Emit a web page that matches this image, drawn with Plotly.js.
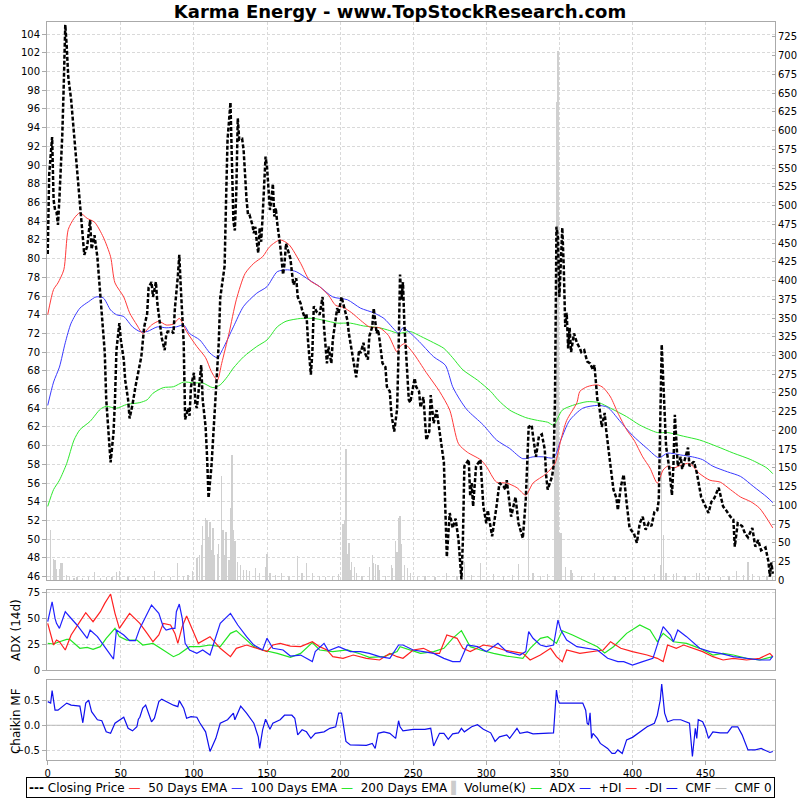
<!DOCTYPE html>
<html><head><meta charset="utf-8">
<script src="https://cdn.plot.ly/plotly-3.0.1.min.js"></script>
<style>html,body{margin:0;padding:0;background:#fff}#chart{width:800px;height:800px}</style>
</head><body><div id="chart"></div>
<script>
// ---- Closing price (day index, value) ----
const closeDays = [0,1,2,3,4,5,6,7,8,9,10,11,12,13,14,16,18,20,21,23,25,27,29,30,32,34,37,39,40,43,45,46,47,49,50,52,53,55,56,58,60,63,64,66,68,69,71,72,74,75,77,78,80,81,82,85,86,87,89,90,91,93,94,96,97,98,100,101,102,104,105,106,108,109,110,112,114,115,117,118,120,121,122,123,125,126,127,128,129,130,131,133,134,136,137,138,140,141,142,143,144,145,146,147,148,149,150,152,153,154,155,156,157,158,159,161,162,163,164,166,167,168,170,171,173,174,176,177,178,180,181,182,184,186,188,189,191,192,194,195,198,199,201,203,205,206,208,210,211,213,214,216,217,219,220,222,223,225,226,227,229,231,232,234,235,237,239,240,241,242,243,244,247,248,251,252,254,255,257,259,261,262,264,266,268,271,273,275,277,279,281,283,284,285,288,289,290,291,293,296,298,300,301,304,307,309,312,313,314,317,320,322,325,327,329,331,332,334,336,338,340,341,342,345,346,347,348,349,350,352,353,354,355,356,357,358,360,362,364,365,367,369,371,373,374,376,377,379,381,382,385,387,389,390,392,394,396,398,401,403,405,407,409,411,413,415,417,418,420,423,425,427,428,429,430,431,433,434,437,438,439,442,444,446,447,450,452,454,456,459,460,462,464,467,469,470,472,475,477,479,482,484,486,488,491,493,494,495,496];
const closeVals = [80.5,89,91,93,86.3,85.2,85,83.6,86.5,90,93.4,98.8,105,102.7,99.5,97,93.4,89.8,87.3,84.1,80.4,81.3,84.1,81,82.5,80.1,74,70,65,58.2,61.4,64.9,70.2,73.1,71.3,69.2,67,64.9,62.9,64.4,66.3,68.8,69.5,72.7,74.1,76.9,77.5,75.9,77.5,75.2,72.7,71.5,70.2,71.8,72.2,72.2,72.0,74.7,78.1,80.4,77.0,71.0,62.8,64.0,63.2,66.3,67.8,64.5,64.0,66.7,68.6,64.9,62.0,58.8,54.4,57.8,62.7,66.3,71.0,75.8,78.1,79.2,86.3,92.7,96.7,91,84,83,87.2,95,92.7,92.8,91.6,86.3,84.7,84.7,83.6,82.7,83.4,81.8,80.6,83.3,81.8,84.5,88.1,90.9,89.8,85.2,86.3,88.0,84.5,85.4,83.8,82.7,81.4,78.3,79.5,81.6,81.1,80.0,78.6,77.2,77.9,75.9,75.2,74.5,73.6,74.1,71.3,67.6,69.9,74.9,74.3,74.0,75.9,72.7,68.8,70.6,68.8,71.3,74.7,74.2,75.9,74.5,73.4,72.0,70.2,68.4,67.3,70.2,69.9,71.0,69.9,69.2,71.7,72.7,74.7,72.0,72.4,71.3,68.8,68.4,66.3,65.8,63.5,61.5,63.9,70.2,78.3,75.6,77.5,72.9,64.9,64.6,67.2,66.3,65.8,64.1,65.2,60.6,61.5,65.4,62.4,63.8,61.4,58.2,48.1,52.8,51.2,52.2,49.9,45.7,49.9,57.8,58.5,54.6,56.0,53.5,57.8,58.5,53.5,51.7,53.1,50.3,53.5,56.0,55.6,55.3,56.3,52.4,54.5,51.7,50.1,54.2,62.0,62.2,61.0,58.8,61.0,61.2,59.6,56.7,55.3,56.7,57.8,64.9,83.4,82.3,75.9,83.3,79.1,72.7,74.2,70.4,72.6,70.0,72.0,71.0,70.4,70.0,70.2,69.0,68.8,68.1,68.6,64.9,64.6,62.0,63.5,61.7,57.8,55.3,54.4,53.1,55.6,56.9,53.9,51.2,50.6,49.6,51.7,52.4,51.0,51.7,51.4,52.9,53.1,54.2,70.8,59.9,57.8,54.7,57.8,63.3,60.6,57.8,58.8,57.5,59.2,59.8,57.8,58.3,57.1,55.3,54.5,53.5,52.8,54.0,54.4,55.5,54.9,53.5,53.1,52.4,52.1,49.2,51.7,51.4,50.6,50.2,51.2,49.2,49.9,48.8,49.1,47.6,46.0,47.5,46.3];

// ---- Moving averages ----
const ema50Days = [0,4,7,11,14,18,22,27,32,38,43,46,52,56,61,65,71,76,81,86,90,95,102,108,112,116,119,124,129,135,141,147,152,159,165,173,179,186,192,197,202,208,214,220,227,233,239,241,244,250,259,268,275,281,287,296,300,307,314,321,327,332,341,347,351,355,362,364,369,376,380,385,390,396,401,407,412,417,421,424,428,433,439,446,453,460,467,474,481,487,496];
const ema50Vals = [74.0,76.7,77.4,78.8,83.1,84.3,84.9,84.3,83.9,82.3,80.2,77.4,75.9,74.2,72.9,72.0,72.9,73.3,72.9,73.0,73.6,72.2,70.6,69.4,67.9,67.0,68.8,72.0,75.6,78.4,79.5,80.2,81.3,82.0,81.5,79.5,77.7,77.0,76.1,75.0,74.8,74.2,73.4,72.7,72.6,71.8,70.0,70.6,70.9,69.9,67.8,65.8,63.8,60.2,59.3,58.5,57.8,56.1,56.0,55.5,54.7,56.0,57.0,58.1,60.6,62.7,64.6,65.8,66.3,66.5,66.2,65.2,63.5,61.7,60.6,58.8,57.6,56.0,57.4,57.8,57.6,57.9,58.1,57.0,56.3,56.1,55.3,54.5,54.0,53.3,51.2];
const ema100Days = [0,4,8,12,16,22,28,33,38,43,47,52,58,63,68,75,81,88,93,97,104,111,116,120,127,134,143,150,157,164,170,179,186,195,205,214,223,230,236,240,243,253,264,272,277,282,287,298,307,316,325,332,339,346,351,357,366,376,383,391,400,410,418,424,433,441,448,455,465,474,483,492,496];
const ema100Vals = [64.3,66.8,68.4,71.0,73.1,74.7,75.4,75.9,75.8,74.5,74.0,73.8,72.7,72.2,72.2,72.7,72.6,72.7,72.9,72.0,71.3,69.9,69.4,70.4,72.7,74.9,76.3,77.0,78.6,78.8,78.6,77.7,77.0,75.9,75.6,74.7,74.2,73.6,72.6,72.0,72.6,71.3,69.5,68.6,66.3,64.9,63.8,62.2,60.6,59.7,58.6,58.8,58.8,58.7,60.6,62.7,64.0,64.3,64.1,62.7,61.1,59.7,58.7,59.2,59.0,58.8,58.5,57.8,57.2,56.7,55.6,54.5,53.9];
const ema200Days = [0,4,8,13,18,22,29,36,40,47,54,63,68,72,79,86,93,100,106,113,118,123,127,134,143,150,157,163,173,182,189,198,207,216,227,234,240,248,255,264,271,277,284,294,303,308,316,327,335,342,346,352,359,369,377,385,396,405,417,424,435,446,458,469,481,492,496];
const ema200Vals = [53.5,55.3,56.3,58.1,60.6,61.7,62.6,63.9,64.2,64.0,64.4,64.6,64.9,65.6,66.2,66.3,66.8,66.7,66.7,66.2,66.5,67.4,68.3,69.5,70.6,71.3,72.7,73.3,73.6,73.6,73.4,73.1,73.1,72.8,72.6,72.3,72.0,72.2,71.7,71.0,70.4,69.4,68.1,67.0,65.8,64.9,63.8,63.0,62.7,62.5,62.2,63.8,64.3,64.7,64.6,64.0,63.1,62.2,61.4,61.4,61.0,60.6,59.9,59.2,58.5,57.6,57.0];

// ---- Volume (K) ----
const volDays = [2,4,5,6,8,9,10,13,15,18,20,24,28,32,36,40,44,47,49,55,60,66,73,78,84,89,93,96,99,102,104,105,106,108,109,110,111,112,113,114,116,117,119,120,121,122,124,125,126,127,128,130,132,134,136,138,142,145,149,150,152,156,160,165,171,174,177,181,186,190,195,199,202,203,204,205,206,207,208,210,211,215,220,222,223,224,226,227,231,235,236,238,239,240,241,242,244,246,248,253,258,265,273,280,285,290,296,305,312,318,322,329,332,337,342,347,348,349,350,351,354,358,359,365,374,380,388,395,400,408,415,419,420,421,423,428,430,436,444,446,452,460,466,471,476,479,482,487,492,496];
const volVals = [67,28,27,15,15,23,23,7,4,3,4,3,5,11,3,5,4,11,13,4,3,5,12,4,5,23,6,7,13,30,34,47,72,83,80,58,78,40,70,34,35,49,139,67,34,64,27,96,167,67,52,25,20,14,14,13,16,10,18,35,10,7,10,6,32,10,23,10,6,5,6,8,75,80,175,35,50,14,24,18,10,6,18,34,23,22,20,14,6,20,17,53,38,83,86,48,20,17,10,5,6,5,10,6,25,7,23,8,6,7,22,180,10,6,8,165,638,706,63,63,18,14,10,6,10,5,6,5,14,6,8,20,190,60,10,8,10,6,10,10,6,5,6,12,7,25,8,5,6,4];

// ---- ADX (14d) ----
const adxDays = [0,4,8,13,15,19,22,27,31,36,40,46,49,54,61,65,72,79,86,90,97,104,111,118,125,129,135,141,147,157,166,173,181,186,195,205,214,220,230,239,241,248,255,264,271,277,283,289,296,305,314,325,330,337,342,348,352,359,369,376,381,387,396,405,412,417,421,428,437,446,455,462,469,478,487,494,496];
const adxVals = [25.8,25.2,27.4,29.7,29.7,24.2,21.0,21.9,20.0,22.6,30.7,40.3,32.3,29.0,29.0,24.2,25.8,19.4,12.9,15.5,22.6,22.6,24.2,22.6,35.5,38.1,30.7,22.6,19.4,16.1,12.3,16.1,26.5,19.4,17.8,19.4,15.5,12.3,12.9,17.8,22.6,19.4,16.1,17.8,21.0,30.7,38.1,22.6,19.4,16.1,13.5,11.3,21.0,30.7,32.3,25.8,38.1,33.9,27.4,22.6,16.5,22.6,35.5,43.6,38.7,27.4,35.5,27.4,25.8,21.0,14.5,16.1,14.5,11.3,9.7,12.3,12.9];
const pdiDays = [0,2,3,5,6,8,12,15,20,27,29,34,38,45,47,52,56,60,63,68,71,73,76,79,81,85,87,88,90,92,94,97,102,106,111,118,125,130,136,141,147,150,154,161,166,173,181,183,189,192,199,207,214,220,227,234,240,243,250,257,264,271,277,282,287,294,300,308,314,323,327,329,332,337,341,346,348,349,351,355,362,369,376,383,390,394,400,407,414,421,426,428,431,437,442,446,453,460,469,478,487,494,496];
const pdiVals = [46.8,61.3,66.1,50,45.2,40.3,56.5,51.6,43.6,30.7,38.7,32.3,24.2,10.6,38.7,33.9,28.4,28.4,40.3,54.9,62.9,59.7,54.9,42,38.7,40.3,40.3,56.5,63.9,50,25.8,19.4,16.1,19.4,14.5,45.2,54.9,43.6,32.3,24.2,19.4,30.7,21.0,19.4,13.5,14.5,8.1,17.8,25.8,18.7,22.6,17.8,17.8,16.1,12.9,11.3,24.2,24.2,19.4,17.8,16.1,11.3,8.1,8.1,24.2,22.6,17.8,25.8,17.8,14.5,17.8,37.1,30.7,24.2,22.6,24.2,40.3,48.4,38.7,29.0,22.6,21.0,19.4,11.3,8.1,8.1,4.8,8.1,11.3,42,33.9,27.4,38.7,32.3,25.8,21.0,17.8,16.1,12.9,11.3,9.7,9.7,13.5];
const mdiDays = [0,2,4,6,8,12,16,22,26,31,36,39,43,46,49,56,63,68,72,76,79,84,87,89,92,95,99,103,111,118,125,129,136,143,150,154,159,166,173,181,186,191,195,202,209,218,227,234,239,243,250,257,264,268,273,280,284,289,298,305,312,318,325,330,337,344,348,352,355,364,373,380,385,392,400,410,417,421,424,430,435,442,448,455,462,469,478,487,494,496];
const mdiVals = [45.2,33.9,24.2,29.0,27.4,19.4,33.9,46.8,55.5,46.8,56.5,64.5,73.6,54.9,40.3,54.9,45.2,35.5,27.4,33.9,45.2,43.6,35.5,25.8,42,52.3,38.7,25.8,32.3,21.0,12.9,21.0,24.2,21.0,17.8,24.2,25.8,23.2,22.6,27.4,22.6,19.4,12.9,11.3,14.5,11.3,9.7,16.1,12.9,11.3,19.4,21.0,16.1,16.1,33.9,30.7,21.0,17.8,24.2,22.6,19.4,17.8,16.1,9.7,14.5,21.0,12.9,8.1,19.4,16.1,17.8,19.4,27.4,21.0,17.8,14.5,11.3,8.1,24.2,21.0,24.2,21.0,17.8,12.9,9.7,11.3,9.7,11.3,16.1,12.9];

// ---- Chaikin Money Flow ----
const cmfDays = [0,2,3,5,7,11,13,16,22,24,26,28,30,34,37,40,43,46,50,52,55,58,61,62,63,65,67,69,71,73,76,78,81,86,89,90,93,95,98,102,104,108,111,115,118,123,127,128,132,136,141,144,145,147,149,152,154,159,162,167,169,171,174,177,180,183,189,193,197,199,201,202,204,207,214,218,222,224,226,230,234,238,240,241,243,250,258,262,264,268,271,274,277,281,283,285,290,294,298,303,306,309,314,316,321,323,328,332,339,346,348,349,350,353,366,368,369,370,371,372,373,376,378,383,386,388,390,393,396,400,405,410,415,417,419,420,422,424,428,433,439,441,443,444,445,448,450,452,455,460,465,468,472,475,479,484,488,492,494,496];
const cmfVals = [0.47,0.44,0.69,0.30,0.30,0.40,0.44,0.40,0.38,0.05,0.44,0.50,0.27,0.11,0.09,-0.13,-0.16,0.04,0.12,0.16,-0.06,-0.11,-0.03,0.12,0.16,0.34,0.40,0.24,0.07,0.14,0.47,0.52,0.47,0.40,0.37,0.49,0.34,0.14,0.17,0.16,0.05,-0.13,-0.52,-0.26,0.04,0.11,0.24,0.11,0.38,0.24,0.04,-0.23,-0.46,-0.09,0.12,-0.08,0.04,0.11,0.20,0.20,0.14,-0.19,-0.09,-0.13,-0.26,-0.16,-0.13,-0.06,-0.03,0.24,0.24,0.07,-0.32,-0.39,-0.40,-0.40,-0.36,-0.46,-0.16,-0.13,-0.16,-0.26,0.09,-0.03,-0.11,-0.08,-0.08,-0.06,-0.41,-0.16,-0.16,-0.28,-0.17,-0.15,-0.06,-0.13,-0.03,0.01,-0.08,-0.15,-0.32,-0.23,-0.19,-0.26,-0.06,-0.16,-0.13,-0.17,-0.16,-0.15,0.70,0.50,0.44,0.44,0.44,0.30,0.04,0.01,0.25,-0.26,-0.16,-0.26,-0.36,-0.46,-0.56,-0.56,-0.49,-0.56,-0.29,-0.24,-0.13,-0.03,0.04,0.20,0.50,0.82,0.24,0.07,0.11,0.11,0.04,-0.62,-0.06,-0.26,0.11,0.07,-0.06,-0.26,-0.13,-0.15,-0.15,-0.03,-0.03,-0.19,-0.49,-0.49,-0.46,-0.52,-0.54,-0.52];
const cmfZeroDays = [-0.5,497.5];
const cmfZeroVals = [0,0];

const xTicks = [0,50,100,150,200,250,300,350,400,450];
const adxTicks = [0,25,50,75];
const cmfTicks = [-0.5,0,0.5];

const titleText = 'Karma Energy - www.TopStockResearch.com';
const adxTitle = 'ADX (14d)';
const cmfTitle = 'Chaikin MF';

const RED = '#ff3a3a', BLUE = '#3a3aff', GREEN = '#2ee82e';
const GRID = '#d9d9d9', BORDER = '#aaaaaa';

const traces = [
  {type:'bar', x:volDays, y:volVals, xaxis:'x', yaxis:'y', width:0.9, marker:{color:'#d0d0d0', line:{width:0}}, name:'Volume(K)', hoverinfo:'skip'},
  {type:'scatter', mode:'lines', x:ema200Days, y:ema200Vals, xaxis:'x', yaxis:'y4', line:{color:GREEN, width:1, shape:'spline', smoothing:0.7}, name:'200 Days EMA'},
  {type:'scatter', mode:'lines', x:ema100Days, y:ema100Vals, xaxis:'x', yaxis:'y4', line:{color:BLUE, width:1, shape:'spline', smoothing:0.7}, name:'100 Days EMA'},
  {type:'scatter', mode:'lines', x:ema50Days, y:ema50Vals, xaxis:'x', yaxis:'y4', line:{color:RED, width:1, shape:'spline', smoothing:0.7}, name:'50 Days EMA'},
  {type:'scatter', mode:'lines', x:closeDays, y:closeVals, xaxis:'x', yaxis:'y4', line:{color:'#000', width:2.5, dash:'4px,2px'}, name:'Closing Price'},
  {type:'scatter', mode:'lines', x:adxDays, y:adxVals, xaxis:'x2', yaxis:'y2', line:{color:'#22e622', width:1.2}, name:'ADX'},
  {type:'scatter', mode:'lines', x:mdiDays, y:mdiVals, xaxis:'x2', yaxis:'y2', line:{color:'#ff2020', width:1.2}, name:'-DI'},
  {type:'scatter', mode:'lines', x:pdiDays, y:pdiVals, xaxis:'x2', yaxis:'y2', line:{color:'#2020ff', width:1.2}, name:'+DI'},
  {type:'scatter', mode:'lines', x:cmfZeroDays, y:cmfZeroVals, xaxis:'x3', yaxis:'y3', line:{color:'#bbbbbb', width:1}, name:'CMF 0'},
  {type:'scatter', mode:'lines', x:cmfDays, y:cmfVals, xaxis:'x3', yaxis:'y3', line:{color:'#1010ee', width:1.2}, name:'CMF'}
];

const xRange = [-0.5, 497.5];
const gridStyle = {showgrid:true, gridcolor:GRID, griddash:'3px,2px', gridwidth:1, zeroline:false};
const boxStyle = {showline:true, mirror:true, linecolor:BORDER, linewidth:1};

const NB = '\u00A0';
function sym(color, ch){ return '<span style="color:'+color+'">'+ch+'</span>'; }
const legendParts = [
  ['<b>---</b>'+NB, 'Closing Price'],
  [sym(RED,'—')+NB+NB, '50 Days EMA'],
  [sym(BLUE,'—')+NB+NB, '100 Days EMA'],
  [sym(GREEN,'—')+NB+NB, '200 Days EMA'],
  [sym('#cccccc','▌')+NB, 'Volume(K)'],
  [sym('#22e622','—')+NB+NB, 'ADX'],
  [sym('#2020ff','—')+NB+NB, '+DI'],
  [sym('#ff2020','—')+NB+NB, '-DI'],
  [sym('#1010ee','—')+NB+NB, 'CMF'],
  [sym('#bbbbbb','—')+NB+NB, 'CMF 0']
];
const legendText = legendParts.map(p => p[0]+p[1]).join(NB);

const layout = {
  width:800, height:800,
  margin:{l:47, r:25, t:22, b:40},
  paper_bgcolor:'#ffffff', plot_bgcolor:'#ffffff',
  font:{family:'DejaVu Sans', size:10, color:'#000'},
  showlegend:false,
  bargap:0,
  title:{text:'<b>'+titleText+'</b>', font:{family:'DejaVu Sans', size:18, color:'#000'}, x:0.5, xref:'container', y:0.985, yref:'container', yanchor:'middle'},
  xaxis:Object.assign({anchor:'y', range:xRange, tickvals:xTicks, showticklabels:false, ticks:''}, gridStyle, boxStyle),
  yaxis:Object.assign({domain:[0.2435,1], anchor:'x', side:'right', range:[0,745], tick0:0, dtick:25, ticks:'inside', ticklen:3, tickcolor:BORDER, showgrid:false, zeroline:false, tickfont:{size:10}}, boxStyle),
  yaxis4:Object.assign({overlaying:'y', anchor:'x', side:'left', range:[45.6,105.3], tick0:0, dtick:2, ticks:'outside', ticklen:4, tickcolor:BORDER, showline:false, tickfont:{size:10}}, gridStyle),
  xaxis2:Object.assign({anchor:'y2', range:xRange, tickvals:xTicks, showticklabels:false, ticks:''}, gridStyle, boxStyle),
  yaxis2:Object.assign({domain:[0.12195,0.23035], anchor:'x2', range:[0,77.5], tickvals:adxTicks, ticks:'outside', ticklen:4, tickcolor:BORDER, tickfont:{size:10}}, gridStyle, boxStyle),
  xaxis3:Object.assign({anchor:'y3', range:xRange, tickvals:xTicks, ticks:'outside', ticklen:4, tickcolor:BORDER, tickfont:{size:10}}, gridStyle, boxStyle),
  yaxis3:Object.assign({domain:[0,0.1084], anchor:'x3', range:[-0.69,0.9], tickvals:cmfTicks, tickformat:'.1f', ticks:'outside', ticklen:4, tickcolor:BORDER, tickfont:{size:10}}, gridStyle, boxStyle),
  annotations:[
    {text:legendText, xref:'paper', yref:'paper', x:0.4849, y:-0.0373, xanchor:'center', yanchor:'middle',
     showarrow:false, font:{family:'DejaVu Sans', size:12, color:'#000'},
     bordercolor:'#000', borderwidth:1, borderpad:2, bgcolor:'#ffffff'},
    {text:adxTitle, xref:'paper', yref:'paper', x:-0.0426, y:0.1762, xanchor:'center', yanchor:'middle',
     textangle:-90, showarrow:false, font:{family:'DejaVu Sans', size:12, color:'#000'}},
    {text:cmfTitle, xref:'paper', yref:'paper', x:-0.0426, y:0.0528, xanchor:'center', yanchor:'middle',
     textangle:-90, showarrow:false, font:{family:'DejaVu Sans', size:12, color:'#000'}}
  ]
};

Plotly.newPlot('chart', traces, layout, {displayModeBar:false, staticPlot:true});
</script>
</body></html>
